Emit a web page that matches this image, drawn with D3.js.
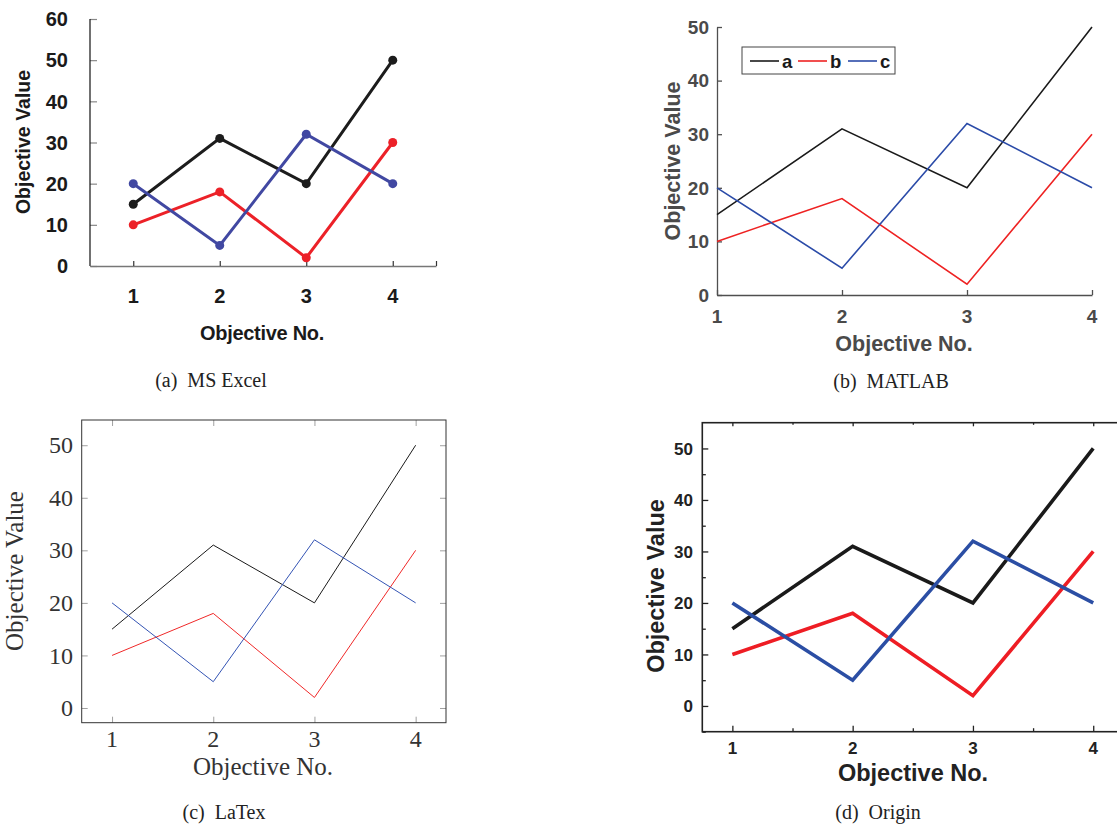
<!DOCTYPE html>
<html><head><meta charset="utf-8">
<script src="https://cdn.jsdelivr.net/npm/d3@7"></script>
<style>body{margin:0;background:#fff}svg{display:block}</style>
</head><body>
<svg id="chart" width="1117" height="825"></svg>
<script>
// ---- data ----
const categories = [1, 2, 3, 4];
const seriesNames = ["a", "b", "c"];
const seriesA = [15, 31, 20, 50];
const seriesB = [10, 18, 2, 30];
const seriesC = [20, 5, 32, 20];
const excelYTicks = [0, 10, 20, 30, 40, 50, 60];
const yTicks = [0, 10, 20, 30, 40, 50];
const originMinorY = [-5, 5, 15, 25, 35, 45];
const originMinorX = [1.5, 2.5, 3.5];
const captions = ["(a)\u2002MS Excel", "(b)\u2002MATLAB", "(c)\u2002LaTex", "(d)\u2002Origin"];
const xTitle = "Objective No.";
const yTitle = "Objective Value";

const seriesValues = [seriesA, seriesB, seriesC];
const svg = d3.select("#chart");
const SANS = "'Liberation Sans', Arial, sans-serif";
const SERIF = "'Liberation Serif', 'Times New Roman', serif";

function drawLines(g, x, y, colors, width, markers) {
  const line = d3.line().x((d, i) => x(categories[i])).y(d => y(d));
  seriesValues.forEach((vals, k) => {
    g.append("path").attr("d", line(vals)).attr("fill", "none")
      .attr("stroke", colors[k]).attr("stroke-width", width)
      .attr("stroke-linejoin", "miter");
    if (markers) {
      g.selectAll(null).data(vals).enter().append("circle")
        .attr("cx", (d, i) => x(categories[i])).attr("cy", d => y(d))
        .attr("r", markers).attr("fill", colors[k]);
    }
  });
}

// ============ (a) MS Excel ============
(function () {
  const g = svg.append("g");
  const x = d3.scaleLinear().domain([0.5, 4.5]).range([90, 436]);
  const y = d3.scaleLinear().domain([0, 60]).range([266, 19]);
  const ya = g.append("g").attr("transform", "translate(90,0)")
    .call(d3.axisRight(y).tickValues(excelYTicks).tickSize(7).tickFormat(""));
  ya.select(".domain").remove();
  ya.selectAll(".tick line").attr("stroke", "#888").attr("stroke-width", 1.2);
  g.append("line").attr("x1", 90).attr("x2", 90).attr("y1", y(60)).attr("y2", y(0))
    .attr("stroke", "#111").attr("stroke-width", 1.2);
  g.selectAll(null).data(excelYTicks).enter().append("text")
    .attr("x", 68).attr("y", d => y(d)).attr("dy", "0.36em")
    .attr("text-anchor", "end").attr("font-family", SANS).attr("font-weight", "bold")
    .attr("font-size", 20).attr("fill", "#1a1a1a").text(d => d);
  const xa = g.append("g").attr("transform", `translate(0,${y(0)})`)
    .call(d3.axisTop(x).tickValues(categories.concat([4.5])).tickSize(5).tickSizeOuter(0).tickFormat(""));
  xa.select(".domain").attr("stroke", "#777").attr("stroke-width", 1.6);
  xa.selectAll(".tick line").attr("stroke", "#333").attr("stroke-width", 1.2);
  g.selectAll(null).data(categories).enter().append("text")
    .attr("x", d => x(d)).attr("y", 303).attr("text-anchor", "middle")
    .attr("font-family", SANS).attr("font-weight", "bold").attr("font-size", 20)
    .attr("fill", "#1a1a1a").text(d => d);
  g.append("text").attr("x", 262).attr("y", 340).attr("text-anchor", "middle")
    .attr("font-family", SANS).attr("font-weight", "bold").attr("font-size", 20)
    .attr("letter-spacing", -0.3).attr("fill", "#1a1a1a").text(xTitle);
  g.append("text").attr("transform", "translate(30,142) rotate(-90)")
    .attr("text-anchor", "middle").attr("font-family", SANS).attr("font-weight", "bold")
    .attr("font-size", 19.5).attr("fill", "#1a1a1a").text(yTitle);
  drawLines(g, x, y, ["#1c1c1c", "#ec2128", "#4148a2"], 3, 4.5);
  g.append("text").attr("x", 211).attr("y", 387).attr("text-anchor", "middle")
    .attr("font-family", SERIF).attr("font-size", 20).attr("fill", "#222").text(captions[0]);
})();

// ============ (b) MATLAB ============
(function () {
  const g = svg.append("g");
  const x = d3.scaleLinear().domain([1, 4]).range([717, 1092]);
  const y = d3.scaleLinear().domain([0, 50]).range([295, 27]);
  const axisColor = "#4f4f4f";
  const ya = g.append("g").attr("transform", "translate(717,0)")
    .call(d3.axisRight(y).tickValues(yTicks).tickSize(5).tickSizeOuter(0).tickFormat(""));
  ya.select(".domain").attr("stroke", axisColor).attr("stroke-width", 1.3);
  ya.selectAll(".tick line").attr("stroke", axisColor).attr("stroke-width", 1.3);
  const xa = g.append("g").attr("transform", "translate(0,295)")
    .call(d3.axisTop(x).tickValues(categories).tickSize(5).tickSizeOuter(0).tickFormat(""));
  xa.select(".domain").attr("stroke", axisColor).attr("stroke-width", 1.3);
  xa.selectAll(".tick line").attr("stroke", axisColor).attr("stroke-width", 1.3);
  g.selectAll(null).data(yTicks).enter().append("text")
    .attr("x", 709).attr("y", d => y(d)).attr("dy", "0.36em").attr("text-anchor", "end")
    .attr("font-family", SANS).attr("font-weight", "bold").attr("font-size", 19)
    .attr("fill", "#4a4a4a").text(d => d);
  g.selectAll(null).data(categories).enter().append("text")
    .attr("x", d => x(d)).attr("y", 323).attr("text-anchor", "middle")
    .attr("font-family", SANS).attr("font-weight", "bold").attr("font-size", 19)
    .attr("fill", "#4a4a4a").text(d => d);
  g.append("text").attr("x", 904).attr("y", 351).attr("text-anchor", "middle")
    .attr("font-family", SANS).attr("font-weight", "bold").attr("font-size", 21.5)
    .attr("fill", "#4a4a4a").text(xTitle);
  g.append("text").attr("transform", "translate(680,161) rotate(-90)")
    .attr("text-anchor", "middle").attr("font-family", SANS).attr("font-weight", "bold")
    .attr("font-size", 21.5).attr("fill", "#4a4a4a").text(yTitle);
  const colors = ["#1a1a1a", "#ee2222", "#2b4ba8"];
  drawLines(g, x, y, colors, 1.6, 0);
  const lg = g.append("g");
  lg.append("rect").attr("x", 742).attr("y", 47).attr("width", 153).attr("height", 27)
    .attr("fill", "#fff").attr("stroke", "#444").attr("stroke-width", 1);
  const lx = [750, 798, 848];
  seriesNames.forEach((n, k) => {
    lg.append("line").attr("x1", lx[k]).attr("x2", lx[k] + 29).attr("y1", 61).attr("y2", 61)
      .attr("stroke", colors[k]).attr("stroke-width", 1.6);
    lg.append("text").attr("x", lx[k] + 32).attr("y", 61).attr("dy", "0.36em")
      .attr("font-family", SANS).attr("font-weight", "bold").attr("font-size", 18.5)
      .attr("fill", "#1a1a1a").text(n);
  });
  g.append("text").attr("x", 891).attr("y", 388).attr("text-anchor", "middle")
    .attr("font-family", SERIF).attr("font-size", 20).attr("fill", "#222").text(captions[1]);
})();

// ============ (c) LaTeX ============
(function () {
  const g = svg.append("g");
  const x = d3.scaleLinear().domain([0.7, 4.3]).range([81.7, 446]);
  const y = d3.scaleLinear().domain([-2.8, 54.8]).range([722.7, 420]);
  const tk = "#a0a0a0";
  const L = 6;
  [["axisRight", 81.7], ["axisLeft", 446]].forEach(a => {
    const ax = g.append("g").attr("transform", `translate(${a[1]},0)`)
      .call(d3[a[0]](y).tickValues(yTicks).tickSize(L).tickSizeOuter(0).tickFormat(""));
    ax.select(".domain").remove();
    ax.selectAll(".tick line").attr("stroke", tk).attr("stroke-width", 1);
  });
  [["axisTop", 722.7], ["axisBottom", 420]].forEach(a => {
    const ax = g.append("g").attr("transform", `translate(0,${a[1]})`)
      .call(d3[a[0]](x).tickValues(categories).tickSize(L).tickSizeOuter(0).tickFormat(""));
    ax.select(".domain").remove();
    ax.selectAll(".tick line").attr("stroke", tk).attr("stroke-width", 1);
  });
  g.append("rect").attr("x", 81.7).attr("y", 420).attr("width", 446 - 81.7).attr("height", 722.7 - 420)
    .attr("fill", "none").attr("stroke", "#333").attr("stroke-width", 1);
  g.selectAll(null).data(yTicks).enter().append("text")
    .attr("x", 73).attr("y", d => y(d)).attr("dy", "0.34em").attr("text-anchor", "end")
    .attr("font-family", SERIF).attr("font-size", 24).attr("fill", "#333").text(d => d);
  g.selectAll(null).data(categories).enter().append("text")
    .attr("x", d => x(d)).attr("y", 747).attr("text-anchor", "middle")
    .attr("font-family", SERIF).attr("font-size", 24).attr("fill", "#333").text(d => d);
  g.append("text").attr("x", 263).attr("y", 775).attr("text-anchor", "middle")
    .attr("font-family", SERIF).attr("font-size", 25).attr("fill", "#333").text(xTitle);
  g.append("text").attr("transform", "translate(23,571) rotate(-90)")
    .attr("text-anchor", "middle").attr("font-family", SERIF)
    .attr("font-size", 25).attr("fill", "#333").text(yTitle);
  drawLines(g, x, y, ["#1a1a1a", "#f02828", "#3454b4"], 1, 0);
  g.append("text").attr("x", 224).attr("y", 819).attr("text-anchor", "middle")
    .attr("font-family", SERIF).attr("font-size", 20).attr("fill", "#222").text(captions[2]);
})();

// ============ (d) Origin ============
(function () {
  const g = svg.append("g");
  const x = d3.scaleLinear().domain([0.75, 4.25]).range([702.3, 1123.3]);
  const y = d3.scaleLinear().domain([-5, 55]).range([731.7, 422.7]);
  const ac = "#222";
  const major = 6, minor = 3.5;
  function ticks(gen, pos, scale, vals, size, horiz) {
    const ax = g.append("g").attr("transform", horiz ? `translate(0,${pos})` : `translate(${pos},0)`)
      .call(d3[gen](scale).tickValues(vals).tickSize(size).tickSizeOuter(0).tickFormat(""));
    ax.select(".domain").remove();
    ax.selectAll(".tick line").attr("stroke", ac).attr("stroke-width", 1.3);
  }
  ticks("axisRight", 702.3, y, yTicks, major, false);
  ticks("axisRight", 702.3, y, originMinorY, minor, false);
  ticks("axisTop", 731.7, x, categories, major, true);
  ticks("axisTop", 731.7, x, originMinorX, minor, true);
  ticks("axisBottom", 422.7, x, categories, major * 0.6, true);
  ticks("axisBottom", 422.7, x, originMinorX, minor * 0.6, true);
  g.append("rect").attr("x", 702.3).attr("y", 422.7).attr("width", 1123.3 - 702.3).attr("height", 731.7 - 422.7)
    .attr("fill", "none").attr("stroke", ac).attr("stroke-width", 1.6);
  g.selectAll(null).data(yTicks).enter().append("text")
    .attr("x", 693).attr("y", d => y(d)).attr("dy", "0.36em").attr("text-anchor", "end")
    .attr("font-family", SANS).attr("font-weight", "bold").attr("font-size", 17)
    .attr("fill", "#222").text(d => d);
  g.selectAll(null).data(categories).enter().append("text")
    .attr("x", d => x(d)).attr("y", 754).attr("text-anchor", "middle")
    .attr("font-family", SANS).attr("font-weight", "bold").attr("font-size", 17)
    .attr("fill", "#222").text(d => d);
  g.append("text").attr("x", 913).attr("y", 781).attr("text-anchor", "middle")
    .attr("font-family", SANS).attr("font-weight", "bold").attr("font-size", 23.5)
    .attr("fill", "#222").text(xTitle);
  g.append("text").attr("transform", "translate(664,586) rotate(-90)")
    .attr("text-anchor", "middle").attr("font-family", SANS).attr("font-weight", "bold")
    .attr("font-size", 23.5).attr("fill", "#222").text(yTitle);
  drawLines(g, x, y, ["#1a1a1a", "#ee1d24", "#2b4ea4"], 3.6, 0);
  g.append("text").attr("x", 878).attr("y", 819).attr("text-anchor", "middle")
    .attr("font-family", SERIF).attr("font-size", 20).attr("fill", "#222").text(captions[3]);
})();
</script>
</body></html>
